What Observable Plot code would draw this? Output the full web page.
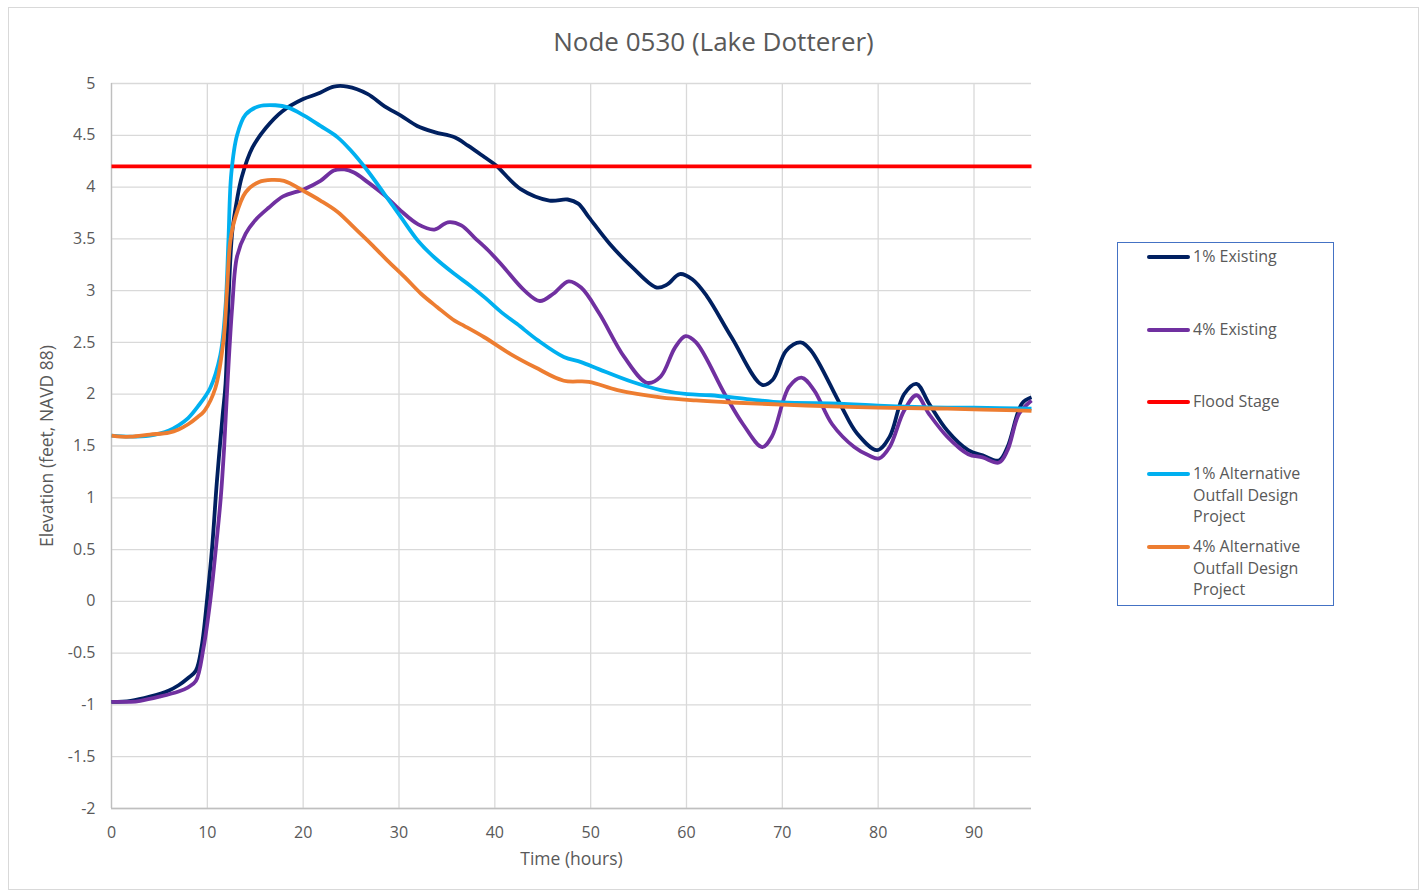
<!DOCTYPE html>
<html>
<head>
<meta charset="utf-8">
<script src="https://cdn.jsdelivr.net/npm/d3@7"></script>
<script src="https://cdn.jsdelivr.net/npm/@observablehq/plot@0.6"></script>
<style>
  body { margin: 0; background: #fff; font-family: "Open Sans", sans-serif; }
  #wrap { position: relative; width: 1423px; height: 894px; overflow: hidden; background: #fff; }
  #frame { position: absolute; left: 8px; top: 7px; width: 1411px; height: 883px; border: 1px solid #d9d9d9; box-sizing: border-box; }
  #title { position: absolute; left: 8px; width: 1411px; top: 24px; text-align: center; font-size: 26px; color: #595959; line-height: 34px; }
  #chart { position: absolute; left: 0; top: 60px; }
  #legend { position: absolute; left: 1117px; top: 242px; width: 217px; height: 364px; border: 1.5px solid #4472C4; box-sizing: border-box; }
  .lg-line { position: absolute; left: 1147px; width: 43px; height: 4px; border-radius: 2px; }
  .lg-text { position: absolute; left: 1193px; font-size: 16px; line-height: 21.7px; color: #595959; }
</style>
</head>
<body>
<div id="wrap">
  <div id="frame"></div>
  <div id="title"></div>
  <div id="chart"></div>
  <div id="legend"></div>
</div>
<script>
// ---- Data (time in hours, elevation in feet NAVD 88) ----
const chartTitle = "Node 0530 (Lake Dotterer)";
const xLabel = "Time (hours)";
const yLabel = "Elevation (feet, NAVD 88)";

const seriesNames = ["1% Existing", "4% Existing", "Flood Stage", "1% Alternative\nOutfall Design\nProject", "4% Alternative\nOutfall Design\nProject"];
const seriesColors = ["#002060", "#7030A0", "#FF0000", "#00B0F0", "#ED7D31"];

const existing1 = [[0,-0.97],[2,-0.96],[4,-0.92],[6,-0.86],[7,-0.81],[8,-0.74],[8.8,-0.67],[9.4,-0.44],[10,0.04],[10.5,0.52],[11,1.16],[11.6,1.8],[11.9,2.1],[12.25,3.0],[12.6,3.57],[13.1,3.88],[13.6,4.1],[14.7,4.38],[16.1,4.57],[17.8,4.73],[20,4.85],[21.5,4.9],[23.2,4.97],[24.6,4.97],[26.7,4.9],[28.5,4.78],[30.2,4.69],[31.9,4.59],[33.7,4.53],[35.8,4.48],[37.2,4.40],[38.9,4.29],[40.1,4.21],[42.7,3.98],[45.7,3.87],[47.6,3.88],[48.7,3.84],[49.8,3.71],[52,3.45],[54.3,3.23],[56.9,3.03],[58,3.06],[59.3,3.16],[60.6,3.11],[62.1,2.95],[64.7,2.55],[67.9,2.09],[69,2.14],[70.4,2.42],[71.9,2.50],[73,2.42],[76,1.91],[77.8,1.62],[79.9,1.46],[81.2,1.59],[82.7,2.0],[84,2.10],[85.3,1.91],[87.2,1.65],[89.4,1.46],[90.9,1.41],[92.6,1.36],[93.5,1.49],[95,1.91],[96,1.97]];

const existing4 = [[0,-0.97],[2,-0.97],[3,-0.96],[5,-0.92],[7,-0.87],[8,-0.83],[8.8,-0.77],[9.6,-0.45],[10.35,0.04],[10.9,0.52],[11.4,1.0],[11.75,1.48],[12.1,2.1],[12.6,2.85],[13.1,3.33],[14,3.55],[15,3.68],[16.4,3.8],[17.9,3.91],[20.1,3.98],[21.8,4.06],[23.2,4.16],[24.3,4.17],[25.3,4.14],[26.7,4.05],[28.5,3.92],[30.2,3.77],[32,3.64],[33.7,3.59],[35.1,3.66],[36.5,3.63],[37.9,3.51],[39.3,3.39],[40.8,3.24],[43.1,3.0],[44.7,2.9],[46.1,2.97],[47.7,3.09],[49,3.03],[50.9,2.78],[53.5,2.36],[55.9,2.11],[57.3,2.17],[58.8,2.45],[59.9,2.56],[61,2.5],[64,2.0],[65.9,1.71],[67.9,1.49],[68.9,1.59],[70.7,2.07],[72,2.16],[73.3,2.04],[75.2,1.71],[77.5,1.49],[79,1.41],[80.1,1.38],[81.2,1.49],[82.7,1.84],[84,1.99],[85.3,1.81],[87.2,1.59],[89.4,1.42],[90.9,1.39],[92.6,1.34],[93.5,1.46],[94.7,1.81],[96,1.94]];

const floodStage = [[0,4.2],[96,4.2]];

const alternative1 = [[0,1.6],[2,1.59],[4,1.6],[5,1.62],[6,1.65],[7,1.7],[8,1.77],[9,1.88],[10.3,2.06],[11.36,2.38],[11.9,2.85],[12.2,3.48],[12.5,4.13],[13.1,4.5],[14,4.7],[15.4,4.78],[17.1,4.79],[18.4,4.77],[20.1,4.69],[21.8,4.59],[23.6,4.48],[25,4.35],[26.7,4.16],[28.5,3.93],[30.2,3.71],[32,3.48],[33.7,3.32],[35.8,3.16],[37.4,3.05],[39,2.93],[40.7,2.79],[42.3,2.68],[44.5,2.52],[47.2,2.36],[49,2.31],[50.9,2.24],[54.3,2.12],[57.3,2.04],[60.1,2.0],[62.5,1.99],[66.6,1.95],[70,1.92],[76,1.91],[80,1.89],[87.2,1.87],[90,1.87],[96,1.86]];

const alternative4 = [[0,1.6],[1,1.59],[2,1.59],[4,1.61],[6,1.63],[7,1.66],[8,1.71],[9,1.78],[9.7,1.84],[10.84,2.06],[11.7,2.53],[12.05,3.0],[12.4,3.48],[12.9,3.7],[14,3.95],[15.4,4.05],[16.75,4.07],[18,4.06],[20.1,3.96],[21.8,3.87],[23.6,3.76],[25.3,3.61],[27.1,3.45],[28.8,3.29],[30.6,3.13],[32.3,2.97],[34,2.84],[35.8,2.71],[36.8,2.66],[38.9,2.55],[41.6,2.39],[44.2,2.26],[47.2,2.13],[49.8,2.12],[52.8,2.04],[57.3,1.97],[61,1.94],[64.7,1.92],[70,1.90],[76,1.88],[80,1.87],[87.2,1.86],[96,1.84]];

const xTicks = [0,10,20,30,40,50,60,70,80,90];
const yTicks = [-2,-1.5,-1,-0.5,0,0.5,1,1.5,2,2.5,3,3.5,4,4.5,5];

// ---- Chart ----
const allSeries = [existing1, existing4, floodStage, alternative1, alternative4];
const gridColor = "#d9d9d9";
const axisColor = "#bfbfbf";

const lineMarks = allSeries.map((s, i) => Plot.line(s, {
  x: d => d[0], y: d => d[1],
  stroke: seriesColors[i], strokeWidth: 3.8,
  curve: i === 2 ? "linear" : "catmull-rom",
  strokeLinejoin: "round", strokeLinecap: "butt"
}));

const plot = Plot.plot({
  width: 1100,
  height: 834,
  marginTop: 23,
  marginBottom: 86,
  marginLeft: 111,
  marginRight: 69,
  style: { color: "#595959", fontFamily: "'Open Sans', sans-serif", background: "transparent" },
  x: { domain: [0, 96] },
  y: { domain: [-2, 5] },
  marks: [
    Plot.gridX(xTicks, { stroke: gridColor, strokeOpacity: 1, strokeWidth: 1.3 }),
    Plot.gridY(yTicks, { stroke: gridColor, strokeOpacity: 1, strokeWidth: 1.3 }),
    Plot.ruleX([0], { stroke: axisColor, strokeWidth: 1.3 }),
    Plot.ruleY([-2], { stroke: axisColor, strokeWidth: 1.3 }),
    Plot.axisX(xTicks, { tickSize: 0, tickPadding: 18, fontSize: 16, tickFormat: d => String(d), label: null }),
    Plot.axisY(yTicks, { tickSize: 0, tickPadding: 16, fontSize: 16, tickFormat: d => String(d), label: null }),
    Plot.text([yLabel], { frameAnchor: "left", textAnchor: "middle", dx: -64, rotate: -90, fontSize: 17.5, text: d => d, fill: "#595959" }),
    Plot.text([xLabel], { frameAnchor: "bottom", textAnchor: "middle", dy: 56, fontSize: 17.5, text: d => d, fill: "#595959" }),
    ...lineMarks
  ]
});
document.getElementById("chart").appendChild(plot);
document.getElementById("title").textContent = chartTitle;

// ---- Legend ----
const legendY = [257, 330, 402, 474, 547];
const wrap = document.getElementById("wrap");
seriesNames.forEach((name, i) => {
  const ln = document.createElement("div");
  ln.className = "lg-line";
  ln.style.top = (legendY[i] - 2) + "px";
  ln.style.background = seriesColors[i];
  wrap.appendChild(ln);
  const tx = document.createElement("div");
  tx.className = "lg-text";
  tx.style.top = (legendY[i] - 11) + "px";
  tx.innerHTML = name.split("\n").join("<br>");
  wrap.appendChild(tx);
});
</script>
</body>
</html>
